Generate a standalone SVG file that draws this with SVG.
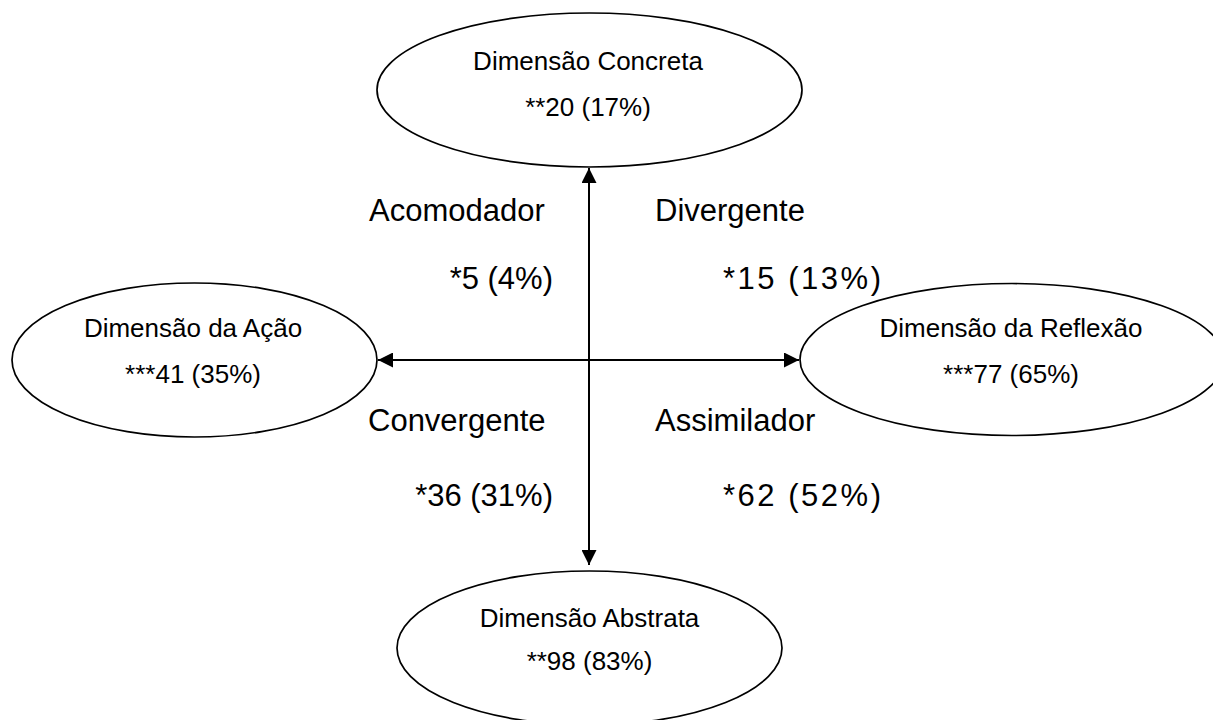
<svg xmlns="http://www.w3.org/2000/svg" width="1213" height="720" viewBox="0 0 1213 720">
<style>
.node ellipse{fill:#fff;stroke:#000;stroke-width:1.7}
.nt{font-family:"Liberation Sans",Arial,sans-serif;font-size:26px;fill:#000;text-anchor:middle}
.lbl{font-family:"Liberation Sans",Arial,sans-serif;font-size:31px;fill:#000}
.conn line{stroke:#000;stroke-width:2;fill:none}
</style>
<defs>
<marker id="ah" markerUnits="userSpaceOnUse" viewBox="0 0 15 15" markerWidth="15" markerHeight="15" refX="15" refY="7.5" orient="auto-start-reverse">
<path d="M0,0 L15,7.5 L0,15 z" fill="#000"/>
</marker>
</defs>
<rect width="1213" height="720" fill="#fff"/>
<g id="node-concreta" class="node">
<ellipse cx="589.5" cy="90" rx="212.5" ry="77"/>
<text class="nt" x="588" y="70">Dimensão Concreta</text>
<text class="nt" x="588" y="116">**20 (17%)</text>
</g>
<g id="node-acao" class="node">
<ellipse cx="194.5" cy="360" rx="182.5" ry="77"/>
<text class="nt" x="193" y="337">Dimensão da Ação</text>
<text class="nt" x="193" y="383">***41 (35%)</text>
</g>
<g id="node-reflexao" class="node">
<ellipse cx="1012" cy="359.5" rx="212" ry="76"/>
<text class="nt" x="1011" y="337">Dimensão da Reflexão</text>
<text class="nt" x="1011" y="383">***77 (65%)</text>
</g>
<g id="node-abstrata" class="node">
<ellipse cx="589.5" cy="648" rx="192.5" ry="77"/>
<text class="nt" x="589.5" y="627">Dimensão Abstrata</text>
<text class="nt" x="589.5" y="670">**98 (83%)</text>
</g>
<g id="connectors" class="conn">
<line x1="589" y1="168" x2="589" y2="565" marker-start="url(#ah)" marker-end="url(#ah)"/>
<line x1="378" y1="360" x2="799" y2="360" marker-start="url(#ah)" marker-end="url(#ah)"/>
</g>
<g id="labels">
<text class="lbl" x="369" y="221">Acomodador</text>
<text class="lbl" x="553" y="289" text-anchor="end">*5 (4%)</text>
<text class="lbl" x="655" y="221">Divergente</text>
<text class="lbl" x="723" y="289" textLength="158" lengthAdjust="spacing">*15 (13%)</text>
<text class="lbl" x="368" y="431">Convergente</text>
<text class="lbl" x="553" y="506" text-anchor="end">*36 (31%)</text>
<text class="lbl" x="655" y="431">Assimilador</text>
<text class="lbl" x="723" y="506" textLength="158" lengthAdjust="spacing">*62 (52%)</text>
</g>
</svg>
